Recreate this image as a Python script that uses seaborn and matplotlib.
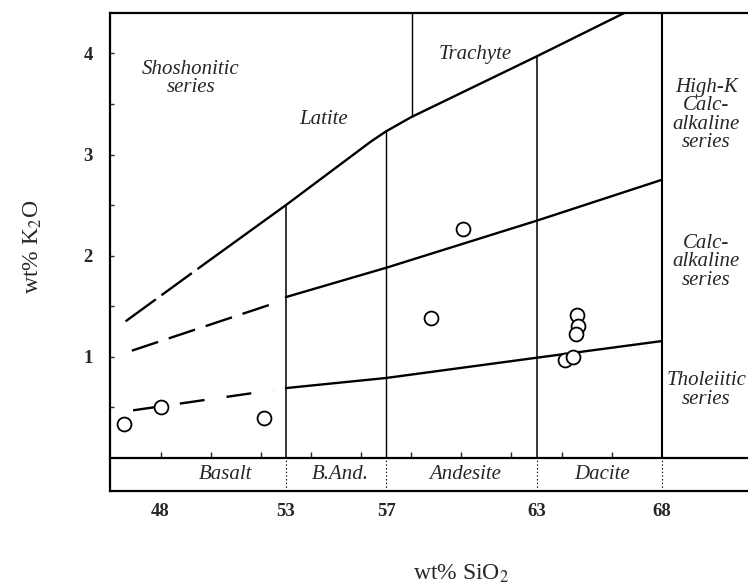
import matplotlib
matplotlib.use("Agg")
import matplotlib.pyplot as plt
import seaborn as sns

# samples (wt% SiO2, wt% K2O)
sio2 = [46.53, 48.0, 52.14, 58.78, 60.08, 64.61, 64.67, 64.58, 64.14, 64.47]
k2o = [0.33, 0.505, 0.39, 1.38, 2.26, 1.41, 1.30, 1.225, 0.97, 1.00]

# series boundaries, dashed (extrapolated) part + solid part
high_dash_x = [46.6, 49.65]
high_dash_y = [1.35, 1.90]
high_x = [49.65, 53, 56.4, 57, 58, 63, 66.5]
high_y = [1.90, 2.50, 3.13, 3.23, 3.37, 3.97, 4.40]
mid_dash_x = [46.85, 52.55]
mid_dash_y = [1.06, 1.53]
mid_x = [53, 57, 63, 68]
mid_y = [1.59, 1.88, 2.345, 2.75]
low_dash_x = [46.9, 52.5]
low_dash_y = [0.47, 0.67]
low_x = [53, 57, 63, 68]
low_y = [0.69, 0.79, 0.99, 1.155]

# rock name dividers
div_x = [53, 57, 63, 68]
div_top = [2.50, 3.23, 3.97, 4.40]
div_lw = [1.1, 1.0, 1.1, 1.5]
trachyte_x = 58.02
trachyte_bottom = 3.37

rock_names = ["Basalt", "B.And.", "Andesite", "Dacite"]
rock_x = [50.57, 55.16, 60.15, 65.63]

field_labels = ["Shoshonitic\nseries", "Latite", "Trachyte",
                "High-K\nCalc-\nalkaline\nseries", "Calc-\nalkaline\nseries",
                "Tholeiitic\nseries"]
field_x = [49.2, 54.52, 60.55, 69.77, 69.77, 69.77]
field_y = [3.75, 3.35, 3.99, 3.39, 1.94, 0.67]

xticks = [48, 53, 57, 63, 68]
xticks_small = [48, 50, 52, 54, 56, 58, 60, 62, 64, 66]
yticks = [1, 2, 3, 4]
yticks_small = [0.5, 1.5, 2.5, 3.5]

xmin, xmax = 45.98, 71.44
ymin, ymax = -0.325, 4.40

sns.set_style("white")
plt.rcParams["font.family"] = ["Liberation Serif", "DejaVu Serif"]
plt.rcParams["mathtext.fontset"] = "stix"
plt.rcParams["lines.scale_dashes"] = False

fig = plt.figure(figsize=(7.48, 5.84), dpi=100)
ax = fig.add_axes([110 / 748, 1 - 490.7 / 584, 638 / 748, (490.7 - 13) / 584])

# boundaries
lw = 1.7
sns.lineplot(x=high_dash_x, y=high_dash_y, ax=ax, color="k", lw=lw,
             estimator=None, linestyle=(0, (27, 5)))
sns.lineplot(x=high_x, y=high_y, ax=ax, color="k", lw=lw, estimator=None)
sns.lineplot(x=mid_dash_x, y=mid_dash_y, ax=ax, color="k", lw=lw,
             estimator=None, linestyle=(0, (20, 8)))
sns.lineplot(x=mid_x, y=mid_y, ax=ax, color="k", lw=lw, estimator=None)
sns.lineplot(x=low_dash_x, y=low_dash_y, ax=ax, color="k", lw=lw,
             estimator=None, linestyle=(0, (18, 16)))
sns.lineplot(x=low_x, y=low_y, ax=ax, color="k", lw=lw, estimator=None)

for x, top, w in zip(div_x, div_top, div_lw):
    ax.vlines(x, 0, top, color="k", lw=w)
    ax.vlines(x, ymin, 0, color="k", lw=0.8, linestyles=":")
ax.vlines(trachyte_x, trachyte_bottom, ymax, color="k", lw=1.0)

sns.scatterplot(x=sio2, y=k2o, ax=ax, s=100, marker="o", color="white",
                edgecolor="black", linewidth=1.3, zorder=5)

for name, x in zip(rock_names, rock_x):
    ax.text(x, -0.16, name, ha="center", va="center", fontsize=15, style="italic")
for lab, x, y in zip(field_labels, field_x, field_y):
    ax.text(x, y, lab, ha="center", va="center", fontsize=15, style="italic",
            linespacing=0.95)

ax.set_xlim(xmin, xmax)
ax.set_ylim(ymin, ymax)
ax.set_xticks(xticks)
ax.set_xticklabels([str(t) for t in xticks], fontweight="bold", fontsize=13.5)
ax.tick_params(axis="x", length=0, pad=9)
ax.set_yticks(yticks)
ax.set_yticks(yticks_small, minor=True)
ax.set_yticklabels([str(t) for t in yticks], fontweight="bold", fontsize=13.5)
ax.tick_params(axis="y", which="both", direction="in", length=3, width=1,
               left=True, pad=12.5)

for s in ["left", "top", "bottom"]:
    ax.spines[s].set_color("k")
    ax.spines[s].set_linewidth(1.6)
ax.spines["right"].set_visible(False)

# y = 0 line with the small ticks pointing up
sec = ax.secondary_xaxis(-ymin / (ymax - ymin))
sec.set_xticks(xticks_small)
sec.tick_params(direction="in", length=4, width=1, labelbottom=False,
                bottom=True)
sec.spines["bottom"].set_color("k")
sec.spines["bottom"].set_linewidth(1.6)

fig.text(33 / 748, 1 - 247 / 584, "wt% K$_2$O", rotation=90, ha="center",
         va="center", fontsize=17)
fig.text(461 / 748, 1 - 574 / 584, "wt% SiO$_2$", ha="center", va="center",
         fontsize=17)

plt.savefig("out.png", dpi=100)
